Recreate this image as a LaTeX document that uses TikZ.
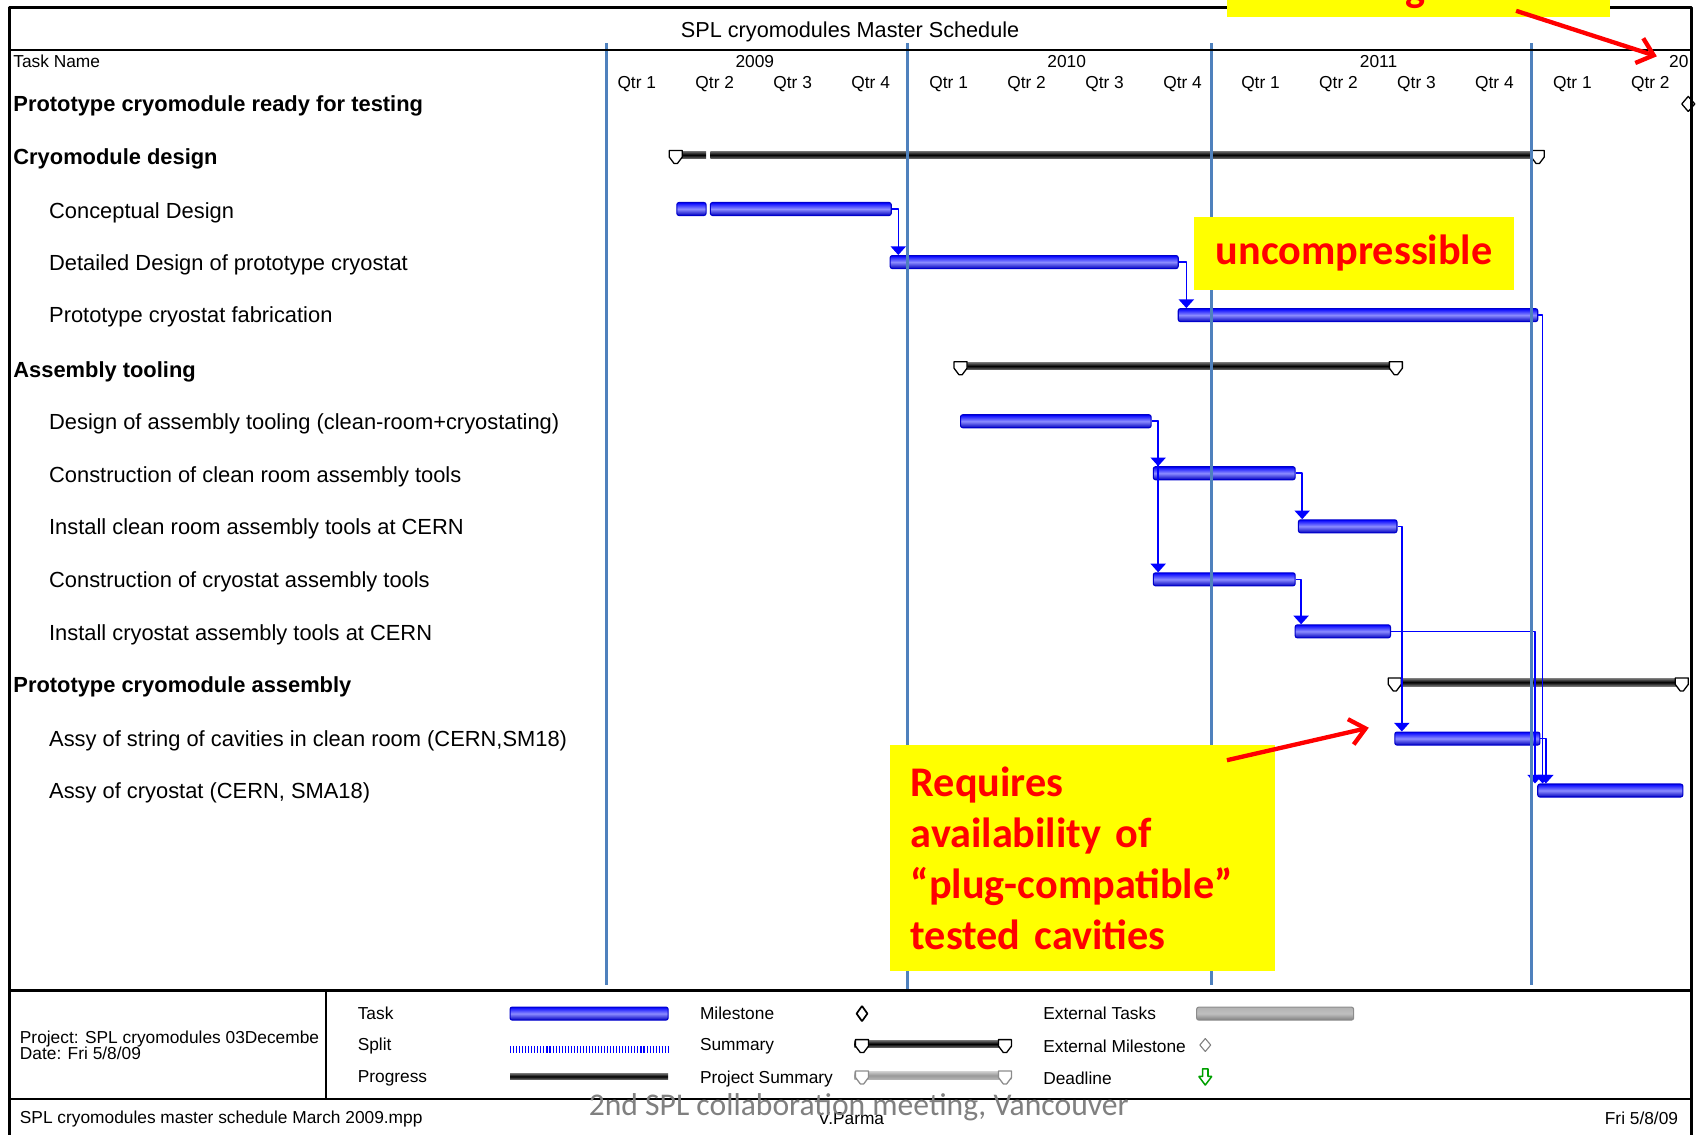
\documentclass[tikz,border=0pt]{standalone}
\usepackage{fontspec}
\setmainfont{Liberation Sans}
\newfontfamily\calibri{Carlito}
\usepackage{tikz}
\usetikzlibrary{arrows.meta,positioning}

\definecolor{msblue}{RGB}{0,0,255}
\definecolor{gridblue}{RGB}{79,129,189}
\definecolor{notered}{RGB}{255,0,0}
\definecolor{noteyel}{RGB}{255,255,0}
\definecolor{deadgreen}{RGB}{0,160,0}

\begin{document}
\begin{tikzpicture}[x=0.5pt,y=-0.5pt,line join=bevel,
  taskbar/.style={draw=msblue!80!black,line width=0.5pt,top color=msblue,bottom color=msblue!75!black,middle color=msblue!45,rounded corners=1pt,minimum height=6pt,inner sep=0pt},
  sumbar/.style={top color=black!55,bottom color=black!55,middle color=black,minimum height=3.5pt,inner sep=0pt},
  link/.style={draw=msblue,line width=0.7pt,-{Triangle[width=7pt,length=4pt]}},
  rednote/.style={fill=noteyel,text=notered,font=\calibri\bfseries\fontsize{19.5}{23.5}\selectfont,inner sep=0pt},
  redarrow/.style={draw=notered,line width=2pt,-{Straight Barb[length=7pt,width=12pt]}},
  tname/.style={anchor=west,inner sep=0pt,font=\fontsize{10.1}{12}\selectfont},
  tgroup/.style={tname,font=\fontsize{10.1}{12}\selectfont\bfseries},
  hdr/.style={inner sep=0pt,font=\fontsize{8}{9.6}\selectfont},
  sumcap/.pic={\draw[fill=white,line width=0.6pt] (-6,-4) -- (6,-4) -- (6,2) -- (1.5,8) -- (-1.5,8) -- (-6,2) -- cycle;},
  ]
\useasboundingbox (0,0) rectangle (1568,1048);
\clip (0,0) rectangle (1568,1048);

%% header
  \node[hdr,font=\fontsize{10}{12}\selectfont] (title) at (785,29) {SPL cryomodules Master Schedule};
  \node[hdr,anchor=west] (taskname) at (12,57) {Task Name};
  \node[hdr] (y2009) at (697,57) {2009};
  \node[hdr] (y2010) at (985,57) {2010};
  \node[hdr] (y2011) at (1273,57) {2011};
  \node[hdr,anchor=west] (y2012) at (1541,57) {20};
  \foreach \q [count=\i from 0] in {1,2,3,4,1,2,3,4,1,2,3,4,1,2}
    \node[hdr] (q\i) at ({588+72*\i},78) {Qtr \q};

%% task names
  \node[tgroup] (ready) at (12,98) {Prototype cryomodule ready for testing};
  \node[tgroup] (cmdesign) at (12,147) {Cryomodule design};
  \node[tname] (concname) at (45,197) {Conceptual Design};
  \node[tname] (detname) at (45,245) {Detailed Design of prototype cryostat};
  \node[tname] (fabname) at (45,293) {Prototype cryostat fabrication};
  \node[tgroup] (tooling) at (12,343) {Assembly tooling};
  \node[tname] (desname) at (45,391) {Design of assembly tooling (clean-room+cryostating)};
  \node[tname] (ccname) at (45,440) {Construction of clean room assembly tools};
  \node[tname] (icname) at (45,488) {Install clean room assembly tools at CERN};
  \node[tname] (cyname) at (45,537) {Construction of cryostat assembly tools};
  \node[tname] (iyname) at (45,586) {Install cryostat assembly tools at CERN};
  \node[tgroup] (protoasm) at (12,634) {Prototype cryomodule assembly};
  \node[tname] (strname) at (45,684) {Assy of string of cavities in clean room (CERN,SM18)};
  \node[tname] (asyname) at (45,732) {Assy of cryostat (CERN, SMA18)};

%% summary bars
  % Node: sum1
  \node[sumbar,minimum width=14pt] (sum1a) at (638,143) {};
  \node[sumbar,minimum width=382pt] (sum1) at (1038,143) {};
  \pic at (624,143) {sumcap};
  \pic at (1420,143) {sumcap};
  % Node: sum2
  \node[sumbar,minimum width=201pt] (sum2) at (1088,338) {};
  \pic at (887,338) {sumcap};
  \pic at (1289,338) {sumcap};
  % Node: sum3
  \node[sumbar,minimum width=132.5pt] (sum3) at (1420.5,630) {};
  \pic at (1288,630) {sumcap};
  \pic at (1553,630) {sumcap};
  % Node: milestone
  \draw[line width=0.6pt,fill=white] (1559,89) -- (1565,96) -- (1559,103) -- (1553,96) -- cycle;

%% task bars
  \node[taskbar,minimum width=13.5pt] (conc0) at (638.5,193) {};
  \node[taskbar,minimum width=83.5pt] (conc) at (739.5,193) {};
  \node[taskbar,minimum width=133pt] (det) at (955,242) {};
  \node[taskbar,minimum width=166pt] (fab) at (1254,291) {};
  \node[taskbar,minimum width=88pt] (des) at (975,389) {};
  \node[taskbar,minimum width=65.5pt] (cclean) at (1130.5,437) {};
  \node[taskbar,minimum width=45.5pt] (iclean) at (1244.5,486) {};
  \node[taskbar,minimum width=65.5pt] (ccryo) at (1130.5,535) {};
  \node[taskbar,minimum width=44pt] (icryo) at (1240,583) {};
  \node[taskbar,minimum width=67pt] (string) at (1355,682) {};
  \node[taskbar,minimum width=67pt] (cryoasy) at (1487,730) {};

%% links
  % Edge: conc -> det
  \draw[link] (conc.east) -| ([xshift=4pt]det.north west);
  % Edge: det -> fab
  \draw[link] (det.east) -| ([xshift=4pt]fab.north west);
  % Edge: des -> cclean
  \draw[link] (des.east) -| ([xshift=2.5pt]cclean.north west);
  % Edge: des -> ccryo
  \draw[link] (des.east) -| ([xshift=2.5pt]ccryo.north west);
  % Edge: cclean -> iclean
  \draw[link] (cclean.east) -| ([xshift=2pt]iclean.north west);
  % Edge: ccryo -> icryo
  \draw[link] (ccryo.east) -| ([xshift=3pt]icryo.north west);
  % Edge: iclean -> string
  \draw[link] (iclean.east) -| ([xshift=3.5pt]string.north west);
  % Edge: icryo -> cryoasy
  \draw[link] (icryo.east) -| ([xshift=-1pt]cryoasy.north west);
  % Edge: fab -> cryoasy
  \draw[link] (fab.east) -| ([xshift=2.5pt]cryoasy.north west);
  % Edge: string -> cryoasy
  \draw[link] (string.east) -| ([xshift=4pt]cryoasy.north west);

%% year lines
  \foreach \gx/\gy in {560/910,838/914,1119/910,1414/910}
    \draw[gridblue,line width=1.2pt] (\gx,40) -- (\gx,\gy);

%% frame
  \draw[line width=1.5pt] (9,1048) -- (9,7) -- (1562,7) -- (1562,1048);
  \draw[line width=1.2pt] (9,46) -- (1562,46);
  \draw[line width=1.5pt] (9,915) -- (1562,915);
  \draw[line width=1pt] (301,915) -- (301,1015);
  \draw[line width=1pt] (9,1015) -- (1562,1015);

%% legend
  \node[hdr,anchor=west,align=left,font=\fontsize{8}{7.5}\selectfont] (proj) at (18,965) {Project: SPL cryomodules 03Decembe\\Date: Fri 5/8/09};
  \node[hdr,anchor=west] (lgtask) at (330,936) {Task};
  \node[taskbar,minimum width=73pt] (lgtaskbar) at (544,936) {};
  \node[hdr,anchor=west] (lgsplit) at (330,966) {Split};
  \draw[msblue,line width=3pt,dash pattern=on 0.5pt off 0.9pt] (471,969) -- (617,969);
  \node[hdr,anchor=west] (lgprog) at (330,996) {Progress};
  \node[sumbar,minimum width=73pt,minimum height=3pt] (lgprogbar) at (544,994) {};
  \node[hdr,anchor=west] (lgmile) at (646,936) {Milestone};
  \draw[line width=0.8pt] (796,929) -- (801,936) -- (796,943) -- (791,936) -- cycle;
  \node[hdr,anchor=west] (lgsum) at (646,966) {Summary};
  \node[sumbar,minimum width=72.5pt] (lgsumbar) at (861.5,964) {};
  \pic at (796,964) {sumcap};
  \pic at (928,964) {sumcap};
  \node[hdr,anchor=west] (lgpsum) at (646,996) {Project Summary};
  \node[sumbar,top color=black!20,bottom color=black!30,middle color=black!40,minimum width=72.5pt] (lgpsumbar) at (861.5,993) {};
  \pic[black!45] at (796,993) {sumcap};
  \pic[black!45] at (928,993) {sumcap};
  \node[hdr,anchor=west] (lgext) at (963,936) {External Tasks};
  \node[draw=black!45,line width=0.5pt,top color=black!30,bottom color=black!50,middle color=black!25,rounded corners=1pt,inner sep=0pt,minimum height=6pt,minimum width=72.5pt] (lgextbar) at (1177.5,936) {};
  \node[hdr,anchor=west] (lgextm) at (963,966) {External Milestone};
  \draw[black!50,line width=0.5pt] (1113,959) -- (1118,965) -- (1113,971) -- (1108,965) -- cycle;
  \node[hdr,anchor=west] (lgdead) at (963,996) {Deadline};
  \draw[deadgreen,line width=0.7pt] (1110.5,987) -- (1115.5,987) -- (1115.5,994) -- (1119,994) -- (1113,1002) -- (1107,994) -- (1110.5,994) -- cycle;

%% footer
  \node[hdr,anchor=west] (file) at (18,1033) {SPL cryomodules master schedule March 2009.mpp};
  \node[hdr] (author) at (786,1033) {V.Parma};
  \node[hdr,anchor=east] (date) at (1550,1033) {Fri 5/8/09};
  \node[inner sep=0pt,text=black!50,font=\calibri\fontsize{14.6}{16}\selectfont] (meeting) at (793,1022) {2nd SPL collaboration meeting, Vancouver};

%% notes
  \node[rednote,minimum width=147.5pt,minimum height=34pt] (unc) at (1250.5,234) {uncompressible};
  \node[rednote,minimum width=177.5pt,minimum height=104.5pt,text width=158.5pt,inner xsep=9.5pt,align=left] (req) at (999.5,792.5) {Requires\\availability of\\“plug-compatible”\\tested cavities};
  \node[rednote,minimum width=177pt,minimum height=16pt] (topnote) at (1310,0) {};
  \node[rednote,fill=none,anchor=base] (topg) at (1307,1) {g};
  \coordinate (toptail) at (1400,10);
  \coordinate (tophead) at (1530,52);
  \draw[redarrow] (toptail) -- (tophead);
  \coordinate (reqtail) at (1133,702);
  \coordinate (reqhead) at (1264,672);
  \draw[redarrow] (reqtail) -- (reqhead);
\end{tikzpicture}
\end{document}
